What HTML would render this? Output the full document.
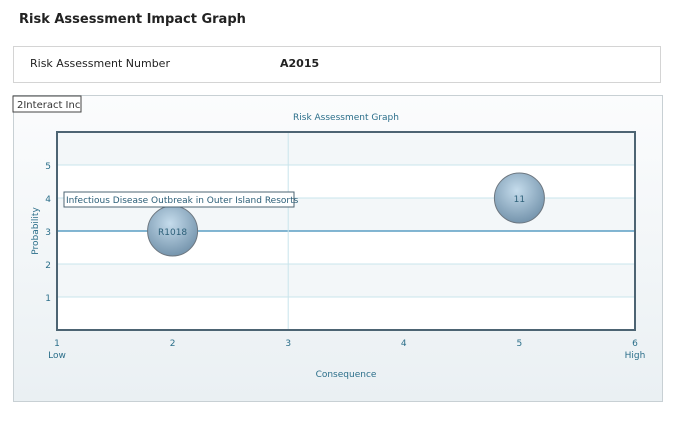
<!DOCTYPE html>
<html><head><meta charset="utf-8"><style>
body{margin:0;width:675px;height:426px;background:#fff;font-family:"DejaVu Sans","Liberation Sans",sans-serif;position:relative;overflow:hidden}
.t{position:absolute;left:19px;top:12px;font-size:13px;font-weight:bold;color:#222}
.info{position:absolute;left:13px;top:46px;width:646px;height:35px;border:1px solid #d4d4d4}
.info span{position:absolute;top:10px;font-size:11px;color:#222}
.panel{position:absolute;left:13px;top:95px;width:648px;height:305px;border:1px solid #c8d0d4;background:linear-gradient(#fbfcfd,#eaf0f3)}
</style></head><body>
<div class="t">Risk Assessment Impact Graph</div>
<div class="info"><span style="left:16px">Risk Assessment Number</span><span style="left:266px;font-weight:bold">A2015</span></div>
<div class="panel"></div>
<svg id="c" width="675" height="426" style="position:absolute;left:0;top:0">
<defs><radialGradient id="g" cx="0.45" cy="0.35" r="0.7"><stop offset="0" stop-color="#c5dcec"/><stop offset="1" stop-color="#6f8fa8"/></radialGradient></defs>
</svg>
<script>
const xTicks=[1,2,3,4,5,6];
const xTickLabels=["1","2","3","4","5","6"];
const yTicks=[1,2,3,4,5];
const bubbleX=[2,5];
const bubbleY=[3,4];
const bubbleLabels=["R1018","11"];
const L=57,R=635,T=132,B=330;
const sx=v=>L+(v-1)*(R-L)/5;
const sy=v=>B-v*(B-T)/6;
const svg=document.getElementById('c');const NS='http://www.w3.org/2000/svg';
function mk(tag,a,p){const e=document.createElementNS(NS,tag);for(const k in a)e.setAttribute(k,a[k]);(p||svg).appendChild(e);return e;}
for(let i=0;i<6;i++){const r=mk('rect',{x:L,y:sy(i+1),width:R-L,height:sy(i)-sy(i+1),fill:i%2?'#f3f7f9':'#fff'});

}
yTicks.forEach(v=>{const l=mk('line',{x1:L,x2:R,y1:sy(v),y2:sy(v),stroke:v==3?'#5a9ec4':'#c9e4ec','stroke-width':v==3?1.5:1});


const t=mk('text',{x:L-6,y:sy(v)+4,'text-anchor':'end','font-size':9,fill:'#2c6f8a'});t.textContent=v;

});
const vl=mk('line',{x1:sx(3),x2:sx(3),y1:T,y2:B,stroke:'#c9e4ec'});


const fr=mk('rect',{x:L,y:T,width:R-L,height:B-T,fill:'none',stroke:'#4d6473','stroke-width':2});


xTicks.forEach((v,i)=>{const t=mk('text',{x:sx(v),y:346,'text-anchor':'middle','font-size':9,fill:'#2c6f8a'});t.textContent=xTickLabels[i];

});
[["Low",sx(1),'low-label'],["High",sx(6),'high-label']].forEach(a=>{const t=mk('text',{x:a[1],y:358,'text-anchor':'middle','font-size':9,fill:'#2c6f8a'});t.textContent=a[0];

});
let t=mk('text',{x:346,y:377,'text-anchor':'middle','font-size':9,fill:'#2c6f8a'});t.textContent='Consequence';


t=mk('text',{x:38,y:231,'text-anchor':'middle','font-size':9,fill:'#2c6f8a',transform:'rotate(-90 38 231)'});t.textContent='Probability';


t=mk('text',{x:346,y:120,'text-anchor':'middle','font-size':9,fill:'#2c6f8a'});t.textContent='Risk Assessment Graph';


let b=mk('rect',{x:13,y:96,width:68,height:16,fill:'#fff',stroke:'#444'});


t=mk('text',{x:17,y:108,'font-size':10,fill:'#333'});t.textContent='2Interact Inc';


bubbleX.forEach((v,i)=>{const c=mk('circle',{cx:sx(v),cy:sy(bubbleY[i]),r:25,fill:'url(#g)',stroke:'#6d7780'});


const tt=mk('text',{x:sx(v),y:sy(bubbleY[i])+4,'text-anchor':'middle','font-size':9,fill:'#2c5f78'});tt.textContent=bubbleLabels[i];

});
b=mk('rect',{x:64,y:192,width:230,height:15,fill:'#fff',stroke:'#4d6473'});


t=mk('text',{x:66,y:203,'font-size':9,fill:'#2c5f78'});t.textContent='Infectious Disease Outbreak in Outer Island Resorts';


</script>
</body></html>
